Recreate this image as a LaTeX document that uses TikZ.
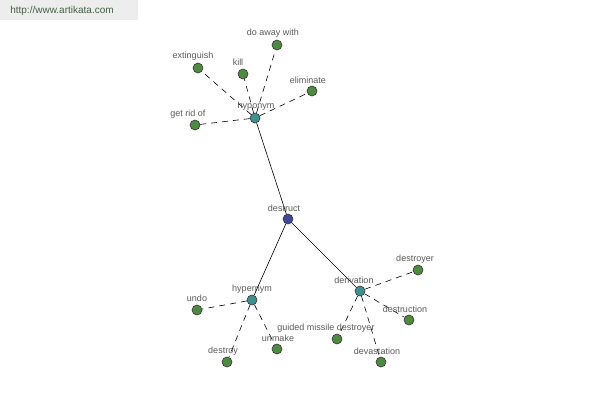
\documentclass[tikz,border=0pt]{standalone}
\usepackage{fontspec}
\setmainfont{Liberation Sans}
\definecolor{leafc}{RGB}{78,138,64}
\definecolor{catc}{RGB}{62,145,145}
\definecolor{rootc}{RGB}{62,72,150}
\definecolor{urlc}{RGB}{70,95,70}
\begin{document}
\begin{tikzpicture}[x=1pt,y=-1pt,
  dot/.style={circle,draw=black!80,line width=0.6pt,minimum size=10pt,inner sep=0pt},
  leaf/.style={dot,fill=leafc},
  cat/.style={dot,fill=catc},
  root/.style={dot,fill=rootc},
  lbl/.style={font=\fontsize{9}{10}\selectfont,text=black!65,inner sep=0pt},
  solidedge/.style={draw=black,line width=0.6pt},
  dashedge/.style={draw=black,line width=0.6pt,dash pattern=on 6pt off 5pt}]
\useasboundingbox (0,0) rectangle (600,400);
\fill[black!7] (0,0) rectangle (138,20);
\node[font=\fontsize{10}{11}\selectfont,text=urlc,inner sep=0pt] (url) at (62,11) {http://www.artikata.com};
\node[root] (destruct) at (288,219) {};
\node[cat] (hyponym) at (255,118) {};
\node[cat] (hypernym) at (252,300) {};
\node[cat] (derivation) at (360,291) {};
\node[leaf] (extinguish) at (198,68) {};
\node[leaf] (kill) at (243,74) {};
\node[leaf] (doaway) at (277,45) {};
\node[leaf] (eliminate) at (312,91) {};
\node[leaf] (getrid) at (195,125) {};
\node[leaf] (undo) at (197,310) {};
\node[leaf] (destroy) at (227,362) {};
\node[leaf] (unmake) at (277,349) {};
\node[leaf] (guided) at (337,339) {};
\node[leaf] (devastation) at (381,362) {};
\node[leaf] (destruction) at (409,320) {};
\node[leaf] (destroyer) at (418,270) {};
\path[solidedge] (destruct) -- (hyponym) (destruct) -- (hypernym) (destruct) -- (derivation);
\path[dashedge] (hyponym) -- (extinguish) (hyponym) -- (kill) (hyponym) -- (doaway)
  (hyponym) -- (eliminate) (hyponym) -- (getrid);
\path[dashedge] (hypernym) -- (undo) (hypernym) -- (destroy) (hypernym) -- (unmake);
\path[dashedge] (derivation) -- (guided) (derivation) -- (devastation)
  (derivation) -- (destruction) (derivation) -- (destroyer);
% labels
\node[lbl] (l-destruct) at (284,208) {destruct};
\node[lbl] (l-hyponym) at (256,106) {hyponym};
\node[lbl] (l-hypernym) at (252,289) {hypernym};
\node[lbl] (l-derivation) at (354,280) {derivation};
\node[lbl] (l-extinguish) at (193,56) {extinguish};
\node[lbl] (l-kill) at (238,62) {kill};
\node[lbl] (l-doaway) at (273,33) {do away with};
\node[lbl] (l-eliminate) at (308,80) {eliminate};
\node[lbl] (l-getrid) at (188,114) {get rid of};
\node[lbl] (l-undo) at (197,298) {undo};
\node[lbl] (l-destroy) at (223,351) {destroy};
\node[lbl] (l-unmake) at (278,338) {unmake};
\node[lbl] (l-guided) at (326,328) {guided missile destroyer};
\node[lbl] (l-devastation) at (377,351) {devastation};
\node[lbl] (l-destruction) at (405,309) {destruction};
\node[lbl] (l-destroyer) at (415,259) {destroyer};
\end{tikzpicture}
\end{document}
